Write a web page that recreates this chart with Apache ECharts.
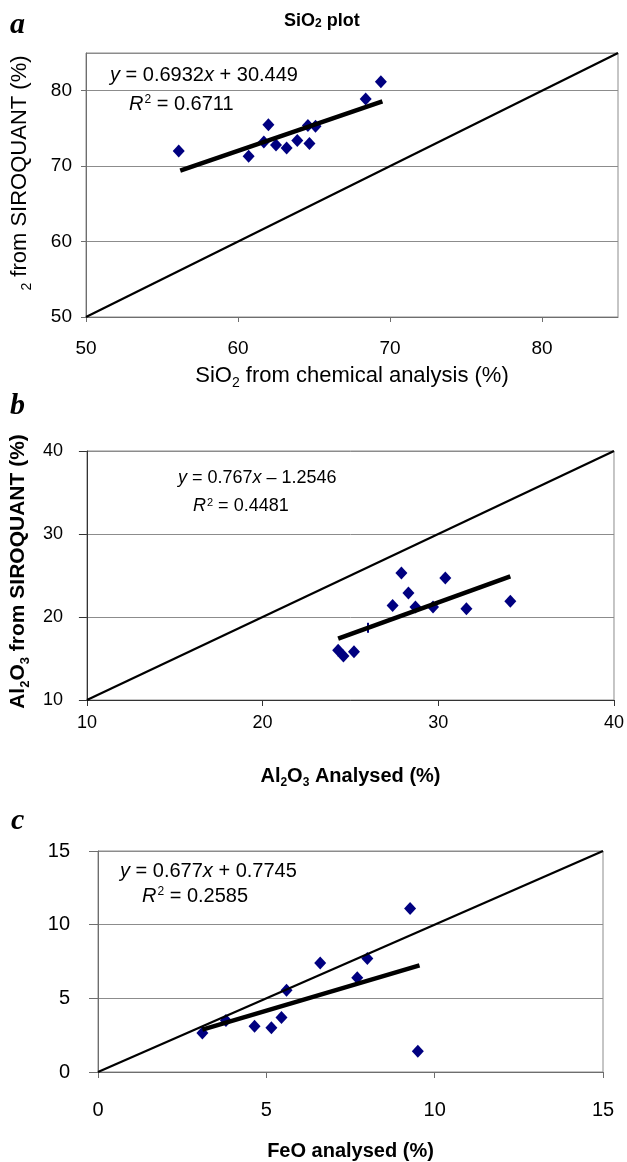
<!DOCTYPE html>
<html>
<head>
<meta charset="utf-8">
<script src="https://cdn.jsdelivr.net/npm/echarts@6/dist/echarts.min.js"></script>
<style>
html,body{margin:0;padding:0;background:#fff;}
#chart{width:627px;height:1162px;}
</style>
</head>
<body>
<div id="chart"></div>
<script>
// ---- Panel a: SiO2 ----
const siO2Chem = [56.1, 60.7, 61.7, 62.0, 62.5, 63.2, 63.9, 64.6, 64.7, 65.1, 68.4, 69.4];
const siO2Siro = [72.0, 71.3, 73.2, 75.5, 72.8, 72.4, 73.4, 75.4, 73.0, 75.3, 78.9, 81.2];
const siO2Trend = [[56.2, 69.4], [69.5, 78.6]];
const siO2Diag = [[50, 50], [85, 85]];
const siO2Ticks = [50, 60, 70, 80];

// ---- Panel b: Al2O3 ----
const al2O3Anal = [27.9, 30.4, 28.3, 27.4, 28.7, 29.7, 31.6, 34.1, 24.3, 24.6, 25.2];
const al2O3Siro = [25.3, 24.7, 22.9, 21.4, 21.2, 21.2, 21.0, 21.9, 16.0, 15.3, 15.8];
const al2O3Odd = [[26.0, 18.7]];
const al2O3Trend = [[24.3, 17.4], [34.1, 24.9]];
const al2O3Diag = [[10, 10], [40, 40]];
const al2O3Ticks = [10, 20, 30, 40];

// ---- Panel c: FeO ----
const feoAnal = [9.27, 6.6, 8.0, 7.7, 5.6, 3.8, 3.1, 4.65, 5.15, 5.45, 9.5];
const feoSiro = [11.1, 7.4, 7.7, 6.4, 5.55, 3.5, 2.65, 3.1, 3.0, 3.7, 1.4];
const feoTrend = [[3.1, 2.87], [9.55, 7.24]];
const feoDiag = [[0, 0], [15, 15]];
const feoTicks = [0, 5, 10, 15];

const FONT = "'Liberation Sans', Arial, Helvetica, sans-serif";
const SERIF = "'Liberation Serif', 'Times New Roman', serif";
const zip = (xs, ys) => xs.map((x, i) => [x, ys[i]]);

const chart = echarts.init(document.getElementById('chart'), null, {renderer: 'canvas'});

function richFor(size, bold) {
  const w = bold ? 'bold' : 'normal';
  return {
    sub: {fontSize: Math.round(size * 0.62), fontWeight: w, fontFamily: FONT, color: '#000', verticalAlign: 'bottom', padding: [0, 0, -3, 0]},
    n: {fontSize: size, fontWeight: w, fontFamily: FONT, color: '#000'}
  };
}
function xAx(idx, min, max, ticks, o) {
  return {
    gridIndex: idx, type: 'value', min: min, max: max, interval: ticks[1] - ticks[0],
    axisLine: {show: true, onZero: false, lineStyle: {color: o.axisColor, width: 1}},
    axisTick: {show: true, inside: false, length: o.tickLen, lineStyle: {color: o.axisColor}},
    axisLabel: {show: true, margin: o.labelMargin, fontSize: o.labelSize, color: '#000', fontFamily: FONT,
      showMinLabel: true, showMaxLabel: ticks[ticks.length - 1] === max},
    splitLine: {show: false},
    name: o.name, nameLocation: 'middle', nameGap: o.nameGap,
    nameTextStyle: {fontSize: o.nameSize, fontWeight: o.bold ? 'bold' : 'normal', color: '#000', fontFamily: FONT,
      rich: richFor(o.nameSize, o.bold)}
  };
}
function yAx(idx, min, max, ticks, o) {
  const size = o.nameSize || 12;
  return {
    gridIndex: idx, type: 'value', min: min, max: max, interval: ticks[1] - ticks[0],
    axisLine: {show: true, onZero: false, lineStyle: {color: o.axisColor, width: 1}},
    axisTick: {show: true, inside: false, length: o.tickLen, lineStyle: {color: o.axisColor}},
    axisLabel: {show: true, margin: o.labelMargin, fontSize: o.labelSize, color: '#000', fontFamily: FONT,
      showMaxLabel: ticks[ticks.length - 1] === max},
    splitLine: {show: true, lineStyle: {color: '#8c8c8c', width: 1}},
    name: o.name || '', nameLocation: 'middle', nameGap: o.nameGap || 0,
    nameTextStyle: {fontSize: size, fontWeight: o.bold ? 'bold' : 'normal', color: '#000', fontFamily: FONT,
      padding: o.namePad || 0, rich: richFor(size, o.bold)}
  };
}

const scatterStyle = {color: '#000080', opacity: 1};
function scat(idx, data, size) {
  return {type: 'scatter', xAxisIndex: idx, yAxisIndex: idx, data: data, symbol: 'diamond',
    symbolSize: size || [12, 13], itemStyle: scatterStyle, z: 3, silent: true};
}
function line(idx, data, w) {
  return {type: 'line', xAxisIndex: idx, yAxisIndex: idx, data: data, symbol: 'none',
    lineStyle: {color: '#000', width: w}, z: 4, silent: true, animation: false};
}

function eqText(x, y, size, a, b) {
  return [
    {type: 'text', left: x, top: y - size * 0.6, z: 10,
      style: {text: '{i|y} = ' + a.m + '{i|x} ' + a.op + ' ' + a.c, fontSize: size, fontFamily: FONT, fill: '#000',
        rich: {i: {fontStyle: 'italic', fontSize: size, fontFamily: FONT, fill: '#000'}}}},
    {type: 'text', left: b.x, top: b.y - size * 0.6, z: 10,
      style: {text: '{i|R}{s|2} = ' + b.r, fontSize: size, fontFamily: FONT, fill: '#000',
        rich: {i: {fontStyle: 'italic', fontSize: size, fontFamily: FONT, fill: '#000'},
               s: {fontSize: Math.round(size * 0.62), fontFamily: FONT, fill: '#000', verticalAlign: 'top', padding: [0, 0, 0, 1]}}}}
  ];
}

const option = {
  animation: false,
  backgroundColor: '#fff',
  grid: [
    {left: 86, right: 9, top: 53, height: 264, show: true, borderColor: '#8c8c8c', borderWidth: 1, containLabel: false},
    {left: 86, right: 7, top: 451, height: 249, show: true, borderColor: '#8c8c8c', borderWidth: 1, containLabel: false},
    {left: 98, right: 24, top: 851, height: 223, show: true, borderColor: '#8c8c8c', borderWidth: 1, containLabel: false}
  ],
  xAxis: [
    xAx(0, 50, 85, siO2Ticks, {axisColor: '#6e6e6e', tickLen: 5, labelMargin: 22, labelSize: 19,
      name: '{n|SiO}{sub|2}{n| from chemical analysis (%)}', nameGap: 48, nameSize: 22, bold: false}),
    xAx(1, 10, 40, al2O3Ticks, {axisColor: '#333', tickLen: 6, labelMargin: 14, labelSize: 18,
      name: '{n|Al}{sub|2}{n|O}{sub|3}{n| Analysed (%)}', nameGap: 66, nameSize: 20, bold: true}),
    xAx(2, 0, 15, feoTicks, {axisColor: '#6e6e6e', tickLen: 6, labelMargin: 28, labelSize: 20,
      name: 'FeO analysed (%)', nameGap: 69, nameSize: 20, bold: true})
  ],
  yAxis: [
    yAx(0, 50, 85, siO2Ticks, {axisColor: '#6e6e6e', tickLen: 5, labelMargin: 14, labelSize: 19,
      name: '{sub|2}{n| from SIROQUANT (%)}', nameGap: 55, nameSize: 22, bold: false, namePad: [0, 0, 0, 24]}),
    yAx(1, 10, 40, al2O3Ticks, {axisColor: '#333', tickLen: 8, labelMargin: 24, labelSize: 18,
      name: '{n|Al}{sub|2}{n|O}{sub|3}{n| from SIROQUANT (%)}', nameGap: 55, nameSize: 21, bold: true, namePad: [0, 0, 0, 8]}),
    yAx(2, 0, 15, feoTicks, {axisColor: '#6e6e6e', tickLen: 9, labelMargin: 28, labelSize: 20})
  ],
  series: [
    line(0, siO2Diag, 2.2), line(0, siO2Trend, 4.5), scat(0, zip(siO2Chem, siO2Siro)),
    line(1, al2O3Diag, 2.2), line(1, al2O3Trend, 4.5), scat(1, zip(al2O3Anal, al2O3Siro)),
    {type: 'scatter', xAxisIndex: 1, yAxisIndex: 1, data: al2O3Odd, symbol: 'rect', symbolSize: [2, 10], itemStyle: scatterStyle, z: 3, silent: true},
    line(2, feoDiag, 2.2), line(2, feoTrend, 4.5), scat(2, zip(feoAnal, feoSiro))
  ],
  graphic: [
    {type: 'text', left: 10, top: 10, z: 10, style: {text: 'a', fontSize: 30, fontWeight: 'bold', fontStyle: 'italic', fontFamily: SERIF, fill: '#000'}},
    {type: 'text', left: 10, top: 391, z: 10, style: {text: 'b', fontSize: 30, fontWeight: 'bold', fontStyle: 'italic', fontFamily: SERIF, fill: '#000'}},
    {type: 'text', left: 11, top: 806, z: 10, style: {text: 'c', fontSize: 30, fontWeight: 'bold', fontStyle: 'italic', fontFamily: SERIF, fill: '#000'}},
    {type: 'text', left: 284, top: 12, z: 10,
      style: {text: '{b|SiO}{s|2}{b| plot}', fontFamily: FONT, fill: '#000',
        rich: {b: {fontSize: 18, fontWeight: 'bold', fontFamily: FONT, fill: '#000'},
               s: {fontSize: 12, fontWeight: 'bold', fontFamily: FONT, fill: '#000', verticalAlign: 'bottom'}}}},
    ...eqText(110, 77, 20, {m: '0.6932', op: '+', c: '30.449'}, {x: 129, y: 106, r: '0.6711'}),
    ...eqText(178, 480, 18, {m: '0.767', op: '\u2013', c: '1.2546'}, {x: 193, y: 508, r: '0.4481'}),
    ...eqText(120, 873, 20, {m: '0.677', op: '+', c: '0.7745'}, {x: 142, y: 898, r: '0.2585'})
  ]
};
chart.setOption(option);
</script>
</body>
</html>
